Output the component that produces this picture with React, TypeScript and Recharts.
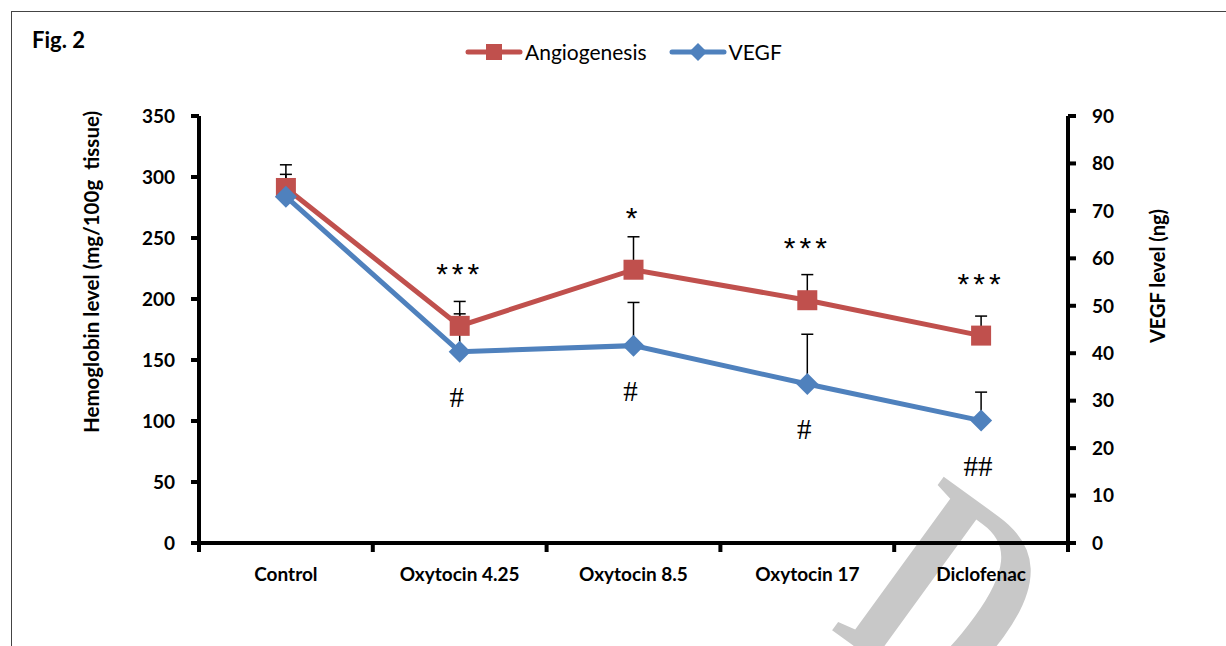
import { ComposedChart, ErrorBar, LabelList, Line, XAxis, YAxis } from 'recharts'

const categories = ['Control', 'Oxytocin 4.25', 'Oxytocin 8.5', 'Oxytocin 17', 'Diclofenac']
const angiogenesis = [291, 178, 224, 199, 170]
const angiogenesisErr = [19, 20, 27, 21, 16]
const vegf = [73, 40.3, 41.6, 33.5, 25.8]
const vegfErr = [4.7, 8, 9.1, 10.5, 6]
const angiogenesisSig = ['', '***', '*', '***', '***']
const vegfSig = ['', '#', '#', '#', '##']
const leftTicks = [0, 50, 100, 150, 200, 250, 300, 350]
const rightTicks = [0, 10, 20, 30, 40, 50, 60, 70, 80, 90]

const RED = '#C0504D'
const BLUE = '#4F81BD'
const FONT = 'Lato, "Open Sans", sans-serif'

const W = 1226
const H = 646
const PLOT_LEFT = 199
const PLOT_RIGHT = 1068
const PLOT_TOP = 116
const PLOT_BOTTOM = 543
const BAND = (PLOT_RIGHT - PLOT_LEFT) / categories.length

const data = categories.map((name, i) => ({
  name,
  angio: angiogenesis[i],
  angioErr: [0, angiogenesisErr[i]],
  angioSig: angiogenesisSig[i],
  vegf: vegf[i],
  vegfErr: [0, vegfErr[i]],
  vegfSig: vegfSig[i]
}))

function CategoryTick(props: any) {
  const { x, payload, index } = props
  const y = PLOT_BOTTOM
  return (
    <g>
      <line x1={x - BAND / 2} x2={x - BAND / 2} y1={y} y2={y + 9} stroke="#000" strokeWidth={4} />
      {index === categories.length - 1 && (
        <line x1={x + BAND / 2} x2={x + BAND / 2} y1={y} y2={y + 9} stroke="#000" strokeWidth={4} />
      )}
      <text x={x} y={y + 38} textAnchor="middle" fontFamily={FONT} fontWeight={700} fontSize={19} fill="#000">
        {payload.value}
      </text>
    </g>
  )
}

const squareDot = (p: any) => (
  <rect key={`sq-${p.index}`} x={p.cx - 10} y={p.cy - 10} width={20} height={20} fill={RED} />
)

const diamondDot = (p: any) => (
  <polygon
    key={`dm-${p.index}`}
    points={`${p.cx},${p.cy - 11} ${p.cx + 11},${p.cy} ${p.cx},${p.cy + 11} ${p.cx - 11},${p.cy}`}
    fill={BLUE}
  />
)

const sigAbove = (p: any) =>
  p.value ? (
    <text x={p.x} y={p.y - 42} textAnchor="middle" fontFamily='"Liberation Sans", Arial, sans-serif' fontSize={30} letterSpacing={4} fill="#000">
      {p.value}
    </text>
  ) : null

const sigBelow = (p: any) =>
  p.value ? (
    <text x={p.x - 3} y={p.y + 55} textAnchor="middle" fontFamily='"Liberation Serif", "Times New Roman", serif' fontSize={29} fill="#000">
      {p.value}
    </text>
  ) : null

function LegendIcon({ color, shape }: { color: string; shape: 'square' | 'diamond' }) {
  return (
    <svg width={58} height={20} style={{ display: 'block' }}>
      <line x1={3} x2={55} y1={10} y2={10} stroke={color} strokeWidth={5} strokeLinecap="round" />
      {shape === 'square' ? (
        <rect x={21} y={2} width={16} height={16} fill={color} />
      ) : (
        <polygon points="29,1 38,10 29,19 20,10" fill={color} />
      )}
    </svg>
  )
}

export default function App() {
  return (
    <div style={{ position: 'absolute', left: 0, top: 0, width: W, height: H, overflow: 'hidden', background: '#fff' }}>
      <svg width={W} height={H} style={{ position: 'absolute', left: 0, top: 0 }}>
        {/* faint watermark behind the chart */}
        <text
          transform="translate(829,628) rotate(36) scale(0.75,1)"
          fontFamily='"Liberation Serif", serif'
          fontWeight={700}
          fontSize={290}
          fill="#c8c8c8"
        >
          D
        </text>
        <text x={32} y={48} fontFamily={FONT} fontWeight={700} fontSize={22} fill="#000">
          Fig. 2
        </text>
      </svg>
      <div
        style={{
          position: 'absolute',
          left: 11,
          top: 11,
          width: W,
          height: H,
          border: '1px solid #444'
        }}
      />
      <div
        style={{
          position: 'absolute',
          left: 465,
          top: 39,
          display: 'flex',
          alignItems: 'center',
          fontFamily: FONT,
          fontSize: 21,
          color: '#000'
        }}
      >
        <LegendIcon color={RED} shape="square" />
        <span style={{ marginLeft: 2, marginRight: 22 }}>Angiogenesis</span>
        <LegendIcon color={BLUE} shape="diamond" />
        <span style={{ marginLeft: 2 }}>VEGF</span>
      </div>
      <div style={{ position: 'absolute', left: 0, top: 0 }}>
        <ComposedChart
          width={W}
          height={H}
          data={data}
          margin={{ top: PLOT_TOP, bottom: H - PLOT_BOTTOM - 60, left: PLOT_LEFT - 120, right: W - PLOT_RIGHT - 120 }}
        >
          <XAxis
            dataKey="name"
            scale="band"
            height={60}
            interval={0}
            tickLine={false}
            tickSize={0}
            tickMargin={0}
            axisLine={{ stroke: '#000', strokeWidth: 4 }}
            tick={<CategoryTick />}
          />
          <YAxis
            yAxisId="left"
            width={120}
            domain={[0, 350]}
            ticks={leftTicks}
            interval={0}
            tickSize={8}
            tickMargin={16}
            axisLine={{ stroke: '#000', strokeWidth: 4 }}
            tickLine={{ stroke: '#000', strokeWidth: 4 }}
            tick={{ fill: '#000', fontSize: 19, fontWeight: 700, fontFamily: FONT }}
            label={{
              content: () => (
                <text
                  transform="translate(99,272) rotate(-90)"
                  textAnchor="middle"
                  fontFamily={FONT}
                  fontWeight={700}
                  fontSize={20.5}
                  fill="#000"
                  style={{ whiteSpace: 'pre' }}
                >
                  Hemoglobin level (mg/100g  tissue)
                </text>
              )
            }}
          />
          <YAxis
            yAxisId="right"
            orientation="right"
            width={120}
            domain={[0, 90]}
            ticks={rightTicks}
            interval={0}
            tickSize={8}
            tickMargin={16}
            axisLine={{ stroke: '#000', strokeWidth: 4 }}
            tickLine={{ stroke: '#000', strokeWidth: 4 }}
            tick={{ fill: '#000', fontSize: 19, fontWeight: 700, fontFamily: FONT }}
            label={{
              content: () => (
                <text
                  transform="translate(1165,276) rotate(-90)"
                  textAnchor="middle"
                  fontFamily={FONT}
                  fontWeight={700}
                  fontSize={20}
                  fill="#000"
                >
                  VEGF level (ng)
                </text>
              )
            }}
          />
          <Line
            yAxisId="left"
            dataKey="angio"
            name="Angiogenesis"
            type="linear"
            stroke={RED}
            strokeWidth={5}
            dot={squareDot}
            activeDot={false}
            isAnimationActive={false}
          >
            <ErrorBar dataKey="angioErr" direction="y" width={6} strokeWidth={1.5} stroke="#000" />
            <LabelList dataKey="angioSig" content={sigAbove} />
          </Line>
          <Line
            yAxisId="right"
            dataKey="vegf"
            name="VEGF"
            type="linear"
            stroke={BLUE}
            strokeWidth={5}
            dot={diamondDot}
            activeDot={false}
            isAnimationActive={false}
          >
            <ErrorBar dataKey="vegfErr" direction="y" width={6} strokeWidth={1.5} stroke="#000" />
            <LabelList dataKey="vegfSig" content={sigBelow} />
          </Line>
        </ComposedChart>
      </div>
    </div>
  )
}
